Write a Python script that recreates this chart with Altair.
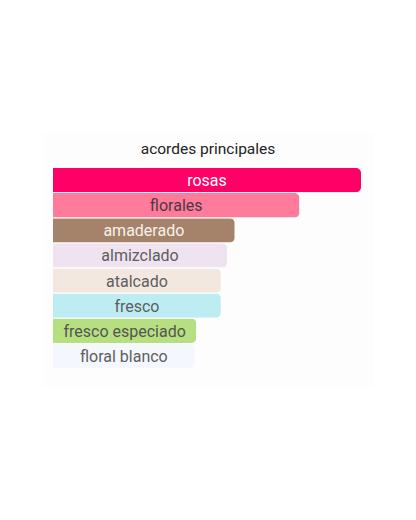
import altair as alt
import pandas as pd

accords = ["rosas", "florales", "amaderado", "almizclado", "atalcado", "fresco", "fresco especiado", "floral blanco"]
values = [100, 80, 59, 56.5, 54.5, 54.5, 46.5, 46]
bar_colors = ["#FF0066", "#FE7B9C", "#A5836A", "#EEE3EF", "#F2E8E0", "#BDEDF3", "#B5DF80", "#F4F7FD"]
text_colors = ["#FFFFFF", "#4A3A40", "#F7F2EA", "#5E5E5E", "#5E5E5E", "#5E5E5E", "#555555", "#5E5E5E"]

df = pd.DataFrame({"acorde": accords, "valor": values, "color": bar_colors, "tcolor": text_colors})
df["mid"] = df["valor"] / 2

W, H = 330, 253
xs = alt.Scale(domain=[0, 100], range=[10, 318])
ys = alt.Scale(range=[35, 235], paddingInner=0.03, paddingOuter=0)

bars = alt.Chart(df).mark_bar(cornerRadiusTopRight=5, cornerRadiusBottomRight=5).encode(
    x=alt.X("valor:Q", scale=xs, axis=None),
    y=alt.Y("acorde:N", sort=accords, scale=ys, axis=None),
    color=alt.Color("color:N", scale=None),
)
labels = alt.Chart(df).mark_text(font="Roboto", fontSize=16, baseline="middle", align="center", dy=1).encode(
    x=alt.X("mid:Q", scale=xs, axis=None),
    y=alt.Y("acorde:N", sort=accords, scale=ys, axis=None),
    text="acorde:N",
    color=alt.Color("tcolor:N", scale=None),
)

chart = (bars + labels).properties(
    width=W, height=H,
    background="#FFFFFF",
    title=alt.TitleParams("acordes principales", font="Roboto", fontSize=15.5, fontWeight="normal",
                          color="#222222", offset=-24, anchor="middle"),
    padding={"left": 35, "top": 125, "right": 10, "bottom": 10},
    autosize=alt.AutoSizeParams(type="none"),
).configure_view(fill="#FDFDFD", stroke="transparent")

chart.save("out.html", embed_options={"renderer": "svg", "actions": False})
